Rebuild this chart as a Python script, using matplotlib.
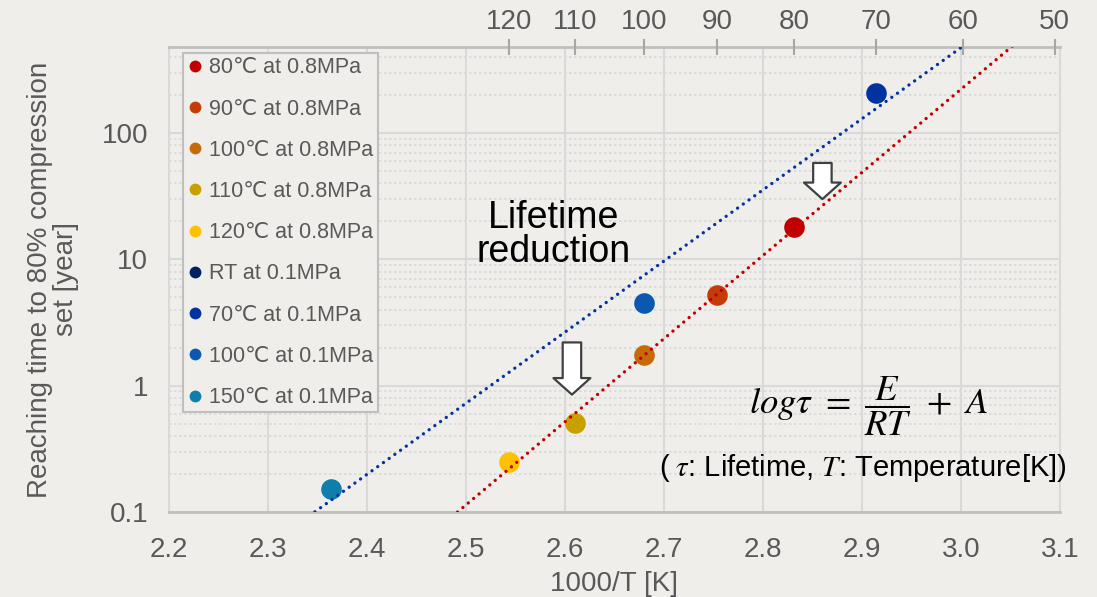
import numpy as np
import matplotlib
matplotlib.use("Agg")
import matplotlib.pyplot as plt
from matplotlib.lines import Line2D

# ---------------- data ----------------
series_labels = ["80℃ at 0.8MPa", "90℃ at 0.8MPa", "100℃ at 0.8MPa",
                 "110℃ at 0.8MPa", "120℃ at 0.8MPa", "RT at 0.1MPa",
                 "70℃ at 0.1MPa", "100℃ at 0.1MPa", "150℃ at 0.1MPa"]
series_temp_c = [80, 90, 100, 110, 120, 25, 70, 100, 150]
series_years = [18.2, 5.2, 1.76, 0.51, 0.25, 3000.0, 209.0, 4.5, 0.153]
series_colors = ["#C00000", "#C43C08", "#C66A0A", "#C8A000", "#FFC000",
                 "#002060", "#0032A0", "#0A58B0", "#0F7EAB"]
fit_red_idx = [0, 1, 2, 3, 4]      # 0.8 MPa trendline
fit_blue_idx = [6, 7, 8]           # 0.1 MPa trendline
top_temps = [120, 110, 100, 90, 80, 70, 60, 50]
x_ticks = [2.2, 2.3, 2.4, 2.5, 2.6, 2.7, 2.8, 2.9, 3.0, 3.1]
y_ticks = [0.1, 1, 10, 100]
y_ticklabels = ["0.1", "1", "10", "100"]

# ---------------- style ----------------
BG = "#EFEEEA"
GRAY = "#595959"
GRID = "#D9D9D9"
FS = 20
plt.rcParams["font.family"] = ["Liberation Sans", "DejaVu Sans"]
plt.rcParams["mathtext.fontset"] = "stix"

fig = plt.figure(figsize=(10.97, 5.97), dpi=100, facecolor=BG)
ax = fig.add_axes([169 / 1097, 1 - 512 / 597, (1060 - 169) / 1097, (512 - 47) / 597])
ax.set_facecolor(BG)

x_vals = np.array([1000.0 / (t + 273.15) for t in series_temp_c])
y_vals = np.array(series_years)

for xv, yv, c, lab in zip(x_vals, y_vals, series_colors, series_labels):
    ax.scatter([xv], [yv], s=220, color=c, label=lab, zorder=3, linewidths=0)

# trendlines (log-linear fits)
xx = np.linspace(2.2, 3.1, 200)
for idx, col in [(fit_red_idx, "#C00000"), (fit_blue_idx, "#0032A0")]:
    p = np.polyfit(x_vals[idx], np.log10(y_vals[idx]), 1)
    ax.plot(xx, 10 ** np.polyval(p, xx), color=col, lw=2.4,
            linestyle=(0, (0.01, 2.1)), dash_capstyle="round", zorder=4)

ax.set_yscale("log")
ax.set_xlim(2.2, 3.1)
ax.set_ylim(0.1, 480)
ax.set_xticks(x_ticks)
ax.set_xticklabels([f"{v:.1f}" for v in x_ticks])
ax.set_yticks(y_ticks)
ax.set_yticklabels(y_ticklabels)
ax.yaxis.set_minor_formatter(matplotlib.ticker.NullFormatter())
ax.tick_params(axis="both", which="both", length=0, colors=GRAY, labelsize=FS)
ax.tick_params(axis="x", pad=18)
ax.tick_params(axis="y", pad=15)

ax.grid(True, which="major", color=GRID, lw=1.5, zorder=0)
ax.grid(True, which="minor", axis="y", color=GRID, lw=1.2, linestyle=(0, (1.5, 1.5)), zorder=0)
ax.set_axisbelow(True)
for s in ["left", "right"]:
    ax.spines[s].set_color(GRID)
    ax.spines[s].set_linewidth(1.5)
for s in ["top", "bottom"]:
    ax.spines[s].set_color("#BFBFBF")
    ax.spines[s].set_linewidth(2)

ax.set_xlabel("1000/T [K]", fontsize=FS, color=GRAY, labelpad=6)
ax.set_ylabel("Reaching time to 80% compression\nset [year]", fontsize=FS,
              color=GRAY, labelpad=16, linespacing=1.0)

# top axis in Celsius
axt = ax.twiny()
axt.set_xlim(ax.get_xlim())
axt.set_xticks([1000.0 / (t + 273.15) for t in top_temps])
axt.set_xticklabels([str(t) for t in top_temps])
axt.tick_params(axis="x", direction="inout", length=11, width=1.5, color="#A6A6A6",
                labelcolor=GRAY, labelsize=FS, pad=3)
for s in axt.spines.values():
    s.set_visible(False)

# legend
handles = [Line2D([0], [0], marker="o", linestyle="none", markersize=8.5,
                  markerfacecolor=c, markeredgewidth=0) for c in series_colors]
leg = ax.legend(handles, series_labels, loc="upper left",
                bbox_to_anchor=(14 / 891, 1 - 6 / 465), fontsize=15.5,
                labelspacing=0.94, handlelength=0.75, handletextpad=0.28,
                borderpad=0.2, borderaxespad=0, fancybox=False, framealpha=1,
                facecolor=BG, edgecolor="#BFBFBF")
leg.get_frame().set_linewidth(1.5)
for t in leg.get_texts():
    t.set_color(GRAY)
leg.set_zorder(5)

# annotations
ax.text(2.588, 15.7, "Lifetime\nreduction", fontsize=27, ha="center", va="center",
        color="black", linespacing=0.92, zorder=6)

arrow_style = "simple,head_length=0.85,head_width=1.9,tail_width=0.95"
for xa, ytop, ybot in [(2.607, 2.2, 0.85), (2.860, 58, 30)]:
    ax.annotate("", xy=(xa, ybot), xytext=(xa, ytop),
                arrowprops=dict(arrowstyle=arrow_style, fc="white", ec="#404040",
                                lw=1.6, mutation_scale=14, shrinkA=0, shrinkB=0),
                zorder=6)

ax.text(0.785, 0.228, r"$log\tau\ =\ \dfrac{E}{RT}\ +\ A$", transform=ax.transAxes,
        fontsize=26.5, ha="center", va="center", color="black", zorder=6)
ax.text(1.007, 0.095, r"($\,\,\tau$: Lifetime, $T$: Temperature[K])", transform=ax.transAxes,
        fontsize=21, ha="right", va="center", color="black", zorder=6)

fig.savefig("out.png", dpi=100, facecolor=BG)
